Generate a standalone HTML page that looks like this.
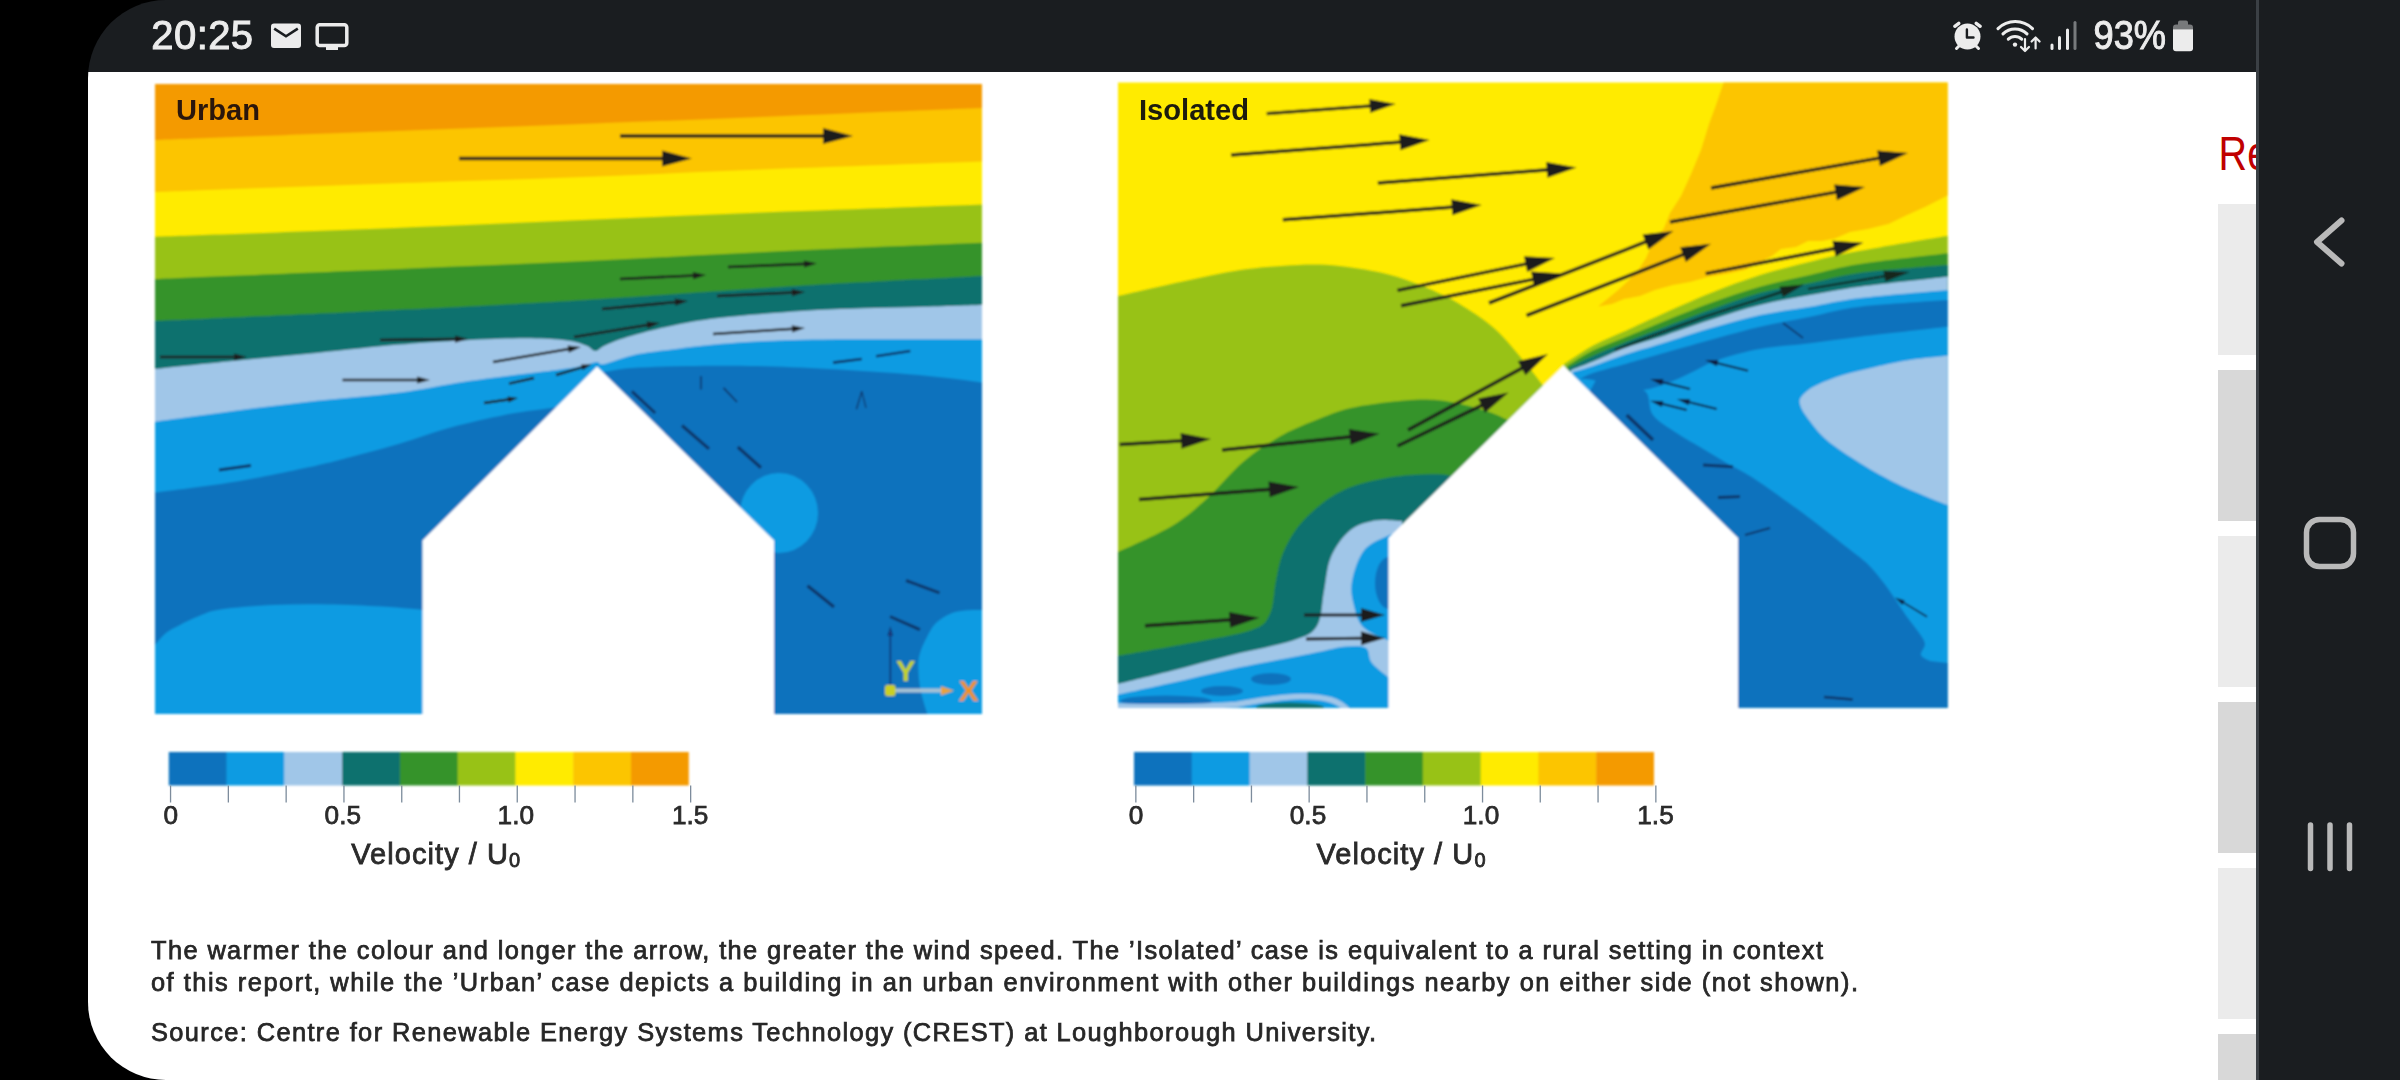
<!DOCTYPE html>
<html lang="en"><head><meta charset="utf-8"><title>Wind speed around buildings</title>
<style>
html,body{margin:0;padding:0;background:#000;}
body{width:2400px;height:1080px;overflow:hidden;position:relative;font-family:"Liberation Sans",sans-serif;}
#screen{position:absolute;left:88px;top:0;width:2312px;height:1080px;background:#1a1d20;border-radius:78px 0 0 78px;overflow:hidden;}
#page{position:absolute;left:0;top:72px;width:2168px;height:1008px;background:#fff;overflow:hidden;}
#status{position:absolute;left:0;top:0;width:2168px;height:72px;color:#ececec;}
#nav{position:absolute;left:2168px;top:0;width:144px;height:1080px;background:#1a1d20;border-left:3px solid #3b4045;box-sizing:border-box;}
.box{position:absolute;left:2130px;width:38px;height:151.5px;}
svg{position:absolute;left:0;top:0;}
svg text{font-family:"Liberation Sans",sans-serif;}
</style></head><body>
<div id="screen">
<div id="page">
<div class="box" style="top:131.5px;background:#ebebeb"></div>
<div class="box" style="top:297.5px;background:#d8d8d8"></div>
<div class="box" style="top:463.5px;background:#ebebeb"></div>
<div class="box" style="top:629.5px;background:#d8d8d8"></div>
<div class="box" style="top:795.5px;background:#ebebeb"></div>
<div class="box" style="top:961.5px;background:#d8d8d8"></div>

</div>
<div id="status"></div>
<div id="nav"></div>
</div>
<svg width="2400" height="1080" viewBox="0 0 2400 1080">
<defs>
<filter id="b1" x="100" y="60" width="1900" height="840" filterUnits="userSpaceOnUse"><feGaussianBlur stdDeviation="0.8"/></filter>
<filter id="b3" x="100" y="775" width="1900" height="115" filterUnits="userSpaceOnUse"><feGaussianBlur stdDeviation="0.5"/></filter>
<filter id="b4" x="150" y="80" width="1200" height="60" filterUnits="userSpaceOnUse"><feGaussianBlur stdDeviation="0.55"/></filter>
<filter id="b2" x="100" y="900" width="1900" height="170" filterUnits="userSpaceOnUse"><feGaussianBlur stdDeviation="0.45"/></filter>
<clipPath id="cre"><rect x="2200" y="100" width="56" height="100"/></clipPath>
<clipPath id="cl"><rect x="155" y="84" width="827" height="630"/></clipPath>
<clipPath id="cr"><rect x="1118" y="82.5" width="829.7" height="625.2"/></clipPath>
</defs>
<g filter="url(#b1)">
<g clip-path="url(#cl)">
<rect x="155.0" y="84.0" width="827.0" height="630.0" fill="#f49a06"/>
<path d="M155 140C188.3 138.8 285.8 135.1 355 132.5C424.2 129.9 498.3 127.2 570 124.5C641.7 121.8 716.3 118.8 785 116C853.7 113.2 949.2 109.3 982 108L982 714L155 714Z" fill="#fcc505"/>
<path d="M155 192C188.3 190.8 285.8 187.1 355 184.7C424.2 182.3 498.3 180.2 570 177.5C641.7 174.8 716.3 171.3 785 168.6C853.7 165.9 949.2 162.6 982 161.4L982 714L155 714Z" fill="#ffeb00"/>
<path d="M155 236.7C188.3 235.5 285.8 232.2 355 229.5C424.2 226.8 498.3 223.5 570 220.5C641.7 217.5 716.3 214.3 785 211.6C853.7 208.9 949.2 205.6 982 204.4L982 714L155 714Z" fill="#98c212"/>
<path d="M155 279C188.3 277.6 285.8 273.6 355 270.7C424.2 267.8 498.3 265.1 570 261.8C641.7 258.5 716.3 254.2 785 251C853.7 247.8 949.2 244.2 982 242.8L982 714L155 714Z" fill="#34932c"/>
<path d="M155 321C188.3 319.5 285.8 315.3 355 312C424.2 308.7 498.3 305.2 570 301C641.7 296.8 716.3 291 785 286.8C853.7 282.6 949.2 277.8 982 276L982 714L155 714Z" fill="#07716e"/>
<path d="M155 369C168 367.7 206.1 363.7 233 361C259.9 358.3 288.9 355.7 316.7 353C344.5 350.3 375.7 346.7 400 344.6C424.3 342.5 441.7 341.4 462.5 340.4C483.3 339.3 507.6 338.3 525 338.3C542.4 338.3 556.5 339.2 566.7 340.4C576.9 341.6 581.2 343.7 586 345.5C590.8 347.3 592.3 351 595.5 351C598.7 351 598.9 348.1 605 345.5C611.1 342.9 618.5 339.4 632 335.7C645.5 331.9 667.8 326.3 685.7 323C703.6 319.7 715.7 318.2 739.6 316C763.5 313.8 799.5 311.1 829.4 309.6C859.3 308.1 893.6 307.8 919 307C944.4 306.2 971.5 305.3 982 305L982 714L155 714Z" fill="#a0c6e8"/>
<path d="M155 421.7C168 419.9 206.1 414.5 233 411C259.9 407.5 288.9 403.9 316.7 400.8C344.5 397.7 375.7 395.6 400 392.5C424.3 389.4 441.7 385.1 462.5 382C483.3 378.9 507.6 376 525 373.8C542.4 371.5 556.3 370.1 566.7 368.5C577.1 366.9 582.5 365.5 587.5 364.4C592.5 363.3 594.2 362.1 597 362C599.8 361.9 598.2 365.1 604 364C609.8 362.9 621.4 357.7 632 355.4C642.6 353.1 652.8 351.9 667.8 350C682.8 348.1 700.8 345.5 721.7 343.8C742.7 342.1 767.1 340.8 793.5 340C819.9 339.2 848.6 339.4 880 339.3C911.4 339.2 965 339.3 982 339.3L982 714L155 714Z" fill="#0a9be2"/>
<path d="M155 492.5C168 490.8 206.1 486.5 233 482C259.9 477.5 295.9 469.9 316.7 465.4C337.5 460.9 344.1 458.6 358 455C371.9 451.4 386.1 447.7 400 443.5C413.9 439.3 427.9 434 441.7 430C455.5 426 470.9 422.4 483 419.6C495.1 416.8 505.1 414.7 514.6 413C524.1 411.3 531.4 410.7 540 409.5C548.6 408.3 561.7 406.6 566 406L566 714L155 714Z" fill="#0b72bd"/>
<path d="M598 374C599.5 373.6 601 372.6 606.7 371.6C612.4 370.6 618.8 368.9 632 368C645.2 367.1 664.8 366.3 685.7 366C706.6 365.7 733.7 365.5 757.6 366C781.5 366.5 802.5 367.5 829.4 369C856.3 370.5 893.6 372.8 919 375C944.4 377.2 971.5 381.2 982 382.4L982 714L598 714Z" fill="#0b72bd"/>
<path d="M155 645C156.8 643 161.8 636.3 166 633C170.2 629.7 174.7 627.8 180 625C185.3 622.2 191.2 619.1 198 616.5C204.8 613.9 207.9 611.4 220.6 609.5C233.3 607.6 256.1 605.9 274 605C291.9 604.1 310.1 604.1 328 604.4C345.9 604.6 365.7 605.6 381.7 606.5C397.7 607.4 416.9 609.4 424 610L424 714L155 714Z" fill="#0a9be2"/>
<ellipse cx="779" cy="513" rx="39" ry="40" fill="#0a9be2"/>
<path d="M982 610C979.2 610.1 970.2 609.9 965 610.5C959.8 611.1 955.8 611.4 951 613.5C946.2 615.6 940 619.1 936 623C932 626.9 929.8 631.7 927 637C924.2 642.3 920.9 649.2 919.5 655C918.1 660.8 918.2 665.8 918.5 672C918.8 678.2 919.4 684.7 921 692C922.6 699.3 926.8 712 928 716L982 716Z" fill="#0a9be2"/>
<path d="M597 366.5L774 540.5V720H422.5V540.5Z" fill="#fff"/>
<path d="M620 136L825 136" stroke="#1d1a1a" stroke-width="3.5" fill="none"/><path d="M853 136L823 144L823 128Z" fill="#1d1a1a"/>
<path d="M459 158.5L664 158.5" stroke="#1d1a1a" stroke-width="3.5" fill="none"/><path d="M692 158.5L662 166.5L662 150.5Z" fill="#1d1a1a"/>
<path d="M728 267L806 263.9" stroke="#1d1a1a" stroke-width="2.6" fill="none"/><path d="M817 263.5L804.2 267.6L803.9 260.4Z" fill="#1d1a1a"/>
<path d="M620 279L695 275.5" stroke="#1d1a1a" stroke-width="2.6" fill="none"/><path d="M706 275L693.2 279.2L692.8 272Z" fill="#1d1a1a"/>
<path d="M717 296L794 292.5" stroke="#1d1a1a" stroke-width="2.6" fill="none"/><path d="M805 292L792.2 296.2L791.8 289Z" fill="#1d1a1a"/>
<path d="M602 309L677 302" stroke="#1d1a1a" stroke-width="2.6" fill="none"/><path d="M688 301L675.4 305.8L674.7 298.6Z" fill="#1d1a1a"/>
<path d="M574 337L649.1 324.8" stroke="#1d1a1a" stroke-width="2.6" fill="none"/><path d="M660 323L647.7 328.6L646.6 321.5Z" fill="#1d1a1a"/>
<path d="M713 334L794 328.7" stroke="#1d1a1a" stroke-width="2.6" fill="none"/><path d="M805 328L792.3 332.4L791.8 325.3Z" fill="#1d1a1a"/>
<path d="M380 340L457 339.1" stroke="#1d1a1a" stroke-width="2.6" fill="none"/><path d="M468 339L455 342.7L455 335.5Z" fill="#1d1a1a"/>
<path d="M160 357L236 357" stroke="#1d1a1a" stroke-width="2.6" fill="none"/><path d="M247 357L234 360.6L234 353.4Z" fill="#1d1a1a"/>
<path d="M493 362L570.2 348.8" stroke="#1d1a1a" stroke-width="2.6" fill="none"/><path d="M581 347L568.8 352.7L567.6 345.6Z" fill="#1d1a1a"/>
<path d="M342.5 380L419 380" stroke="#1d1a1a" stroke-width="2.6" fill="none"/><path d="M430 380L417 383.6L417 376.4Z" fill="#1d1a1a"/>
<path d="M509 383.6L534 378" stroke="#1d1a1a" stroke-width="2.4" fill="none"/>
<path d="M556 375L583.9 366.8" stroke="#1d1a1a" stroke-width="2.4" fill="none"/><path d="M591.6 364.6L582.8 370.3L581.2 364.5Z" fill="#1d1a1a"/>
<path d="M484 403L510.1 399.2" stroke="#1d1a1a" stroke-width="2.4" fill="none"/><path d="M518 398L508.5 402.4L507.7 396.5Z" fill="#1d1a1a"/>
<path d="M833 362.6L861.8 359" stroke="#0c3467" stroke-width="2.6" fill="none"/>
<path d="M876 356.3L910.3 351" stroke="#0c3467" stroke-width="2.6" fill="none"/>
<path d="M701 376L701 389.6" stroke="#0c3467" stroke-width="1.6" fill="none"/>
<path d="M723.5 387.8L737 402" stroke="#0c3467" stroke-width="1.8" fill="none"/>
<path d="M861.8 391.4L856.4 409.3" stroke="#0c3467" stroke-width="1.4" fill="none"/>
<path d="M861.8 391.4L866 408" stroke="#0c3467" stroke-width="1.2" fill="none"/>
<path d="M631.9 391.4L655.2 413" stroke="#0c3467" stroke-width="3" fill="none"/>
<path d="M682 425.5L709 448.9" stroke="#0c3467" stroke-width="3.2" fill="none"/>
<path d="M737.8 447L761 467.7" stroke="#0c3467" stroke-width="3.2" fill="none"/>
<path d="M219 470L251 465.5" stroke="#0c3467" stroke-width="3" fill="none"/>
<path d="M807.5 585.7L834 606.9" stroke="#0c3467" stroke-width="3.2" fill="none"/>
<path d="M906 580.5L939.5 592.8" stroke="#0c3467" stroke-width="3" fill="none"/>
<path d="M890 616.5L920 629.7" stroke="#0c3467" stroke-width="3" fill="none"/>
<path d="M890.3 688V634" stroke="#123a7c" stroke-width="1.8"/><path d="M890.3 626l-3 10h6z" fill="#123a7c"/>
<path d="M894 690.5H942" stroke="#a9c2d4" stroke-width="4.2"/><path d="M954 690.8l-13 -4.5v9z" fill="#e8a23c"/>
<rect x="885" y="685" width="10.5" height="11" rx="2.5" fill="#c9cf22"/>
<text x="896" y="680.8" font-size="29" font-weight="bold" fill="#c4d326">Y</text>
<text x="958.5" y="701" font-size="30" font-weight="bold" fill="#f0921e">X</text>
</g>
<g clip-path="url(#cr)">
<rect x="1118.0" y="82.5" width="829.7" height="625.2" fill="#ffeb00"/>
<path d="M1723.6 82.5L1716 105L1709 124L1701 150L1691 174L1681 196L1670 213L1664 228L1652 244L1646 258L1637.6 271L1628 281L1617 291L1606 300L1598 306.5L1612 304L1624 299L1640 296L1655 290L1673 285L1690 282L1708 277L1726 274L1745 270L1760 262L1772 256L1781 249L1796 247L1808 241L1822 241L1835 238.5L1850 232L1868 229L1888.5 224L1905 216L1925 207L1947.7 195.4L1947.7 82.5Z" fill="#fcc505"/>
<path d="M1118 296C1128.3 293.7 1159.7 286.3 1180 282C1200.3 277.7 1220.5 272.8 1240 270C1259.5 267.2 1280.3 265.7 1297 265C1313.7 264.3 1325 264.5 1340 266C1355 267.5 1372.8 270.5 1387 274C1401.2 277.5 1413.2 282.2 1425 287C1436.8 291.8 1446.5 296.2 1458 303C1469.5 309.8 1483.2 318.5 1494 328C1504.8 337.5 1514.5 350 1523 360C1531.5 370 1541.3 383.3 1545 388L1545 560L1500 707.7L1118 707.7Z" fill="#98c212"/>
<path d="M1118 552C1127 547.7 1157.1 535 1172 526C1186.9 517 1195.7 508.7 1207.5 498C1219.3 487.3 1231.1 472.2 1243 462C1254.9 451.8 1267 443.9 1279 437C1291 430.1 1303 425.4 1315 420.6C1327 415.8 1336 411.4 1351 408C1366 404.6 1390.7 401.8 1405 400.5C1419.3 399.2 1426.3 399.1 1437 400C1447.7 400.9 1459 403.5 1469 406C1479 408.5 1489.2 411.8 1497 415C1504.8 418.2 1512.8 423.3 1516 425L1516 560L1500 707.7L1118 707.7Z" fill="#34932c"/>
<path d="M1118 656C1130.2 653.8 1168.7 647.3 1191 643C1213.3 638.7 1238.8 634.8 1252 630C1265.2 625.2 1266 622.2 1270 614C1274 605.8 1273.7 591.5 1276 581C1278.3 570.5 1279.3 561.2 1284 551C1288.7 540.8 1294.7 529.8 1304 520C1313.3 510.2 1326.2 499 1340 492C1353.8 485 1370.2 480.9 1387 478C1403.8 475.1 1428 474.1 1440.5 474.4C1453 474.7 1458.4 479.1 1462 480L1462 560L1500 707.7L1118 707.7Z" fill="#07716e"/>
<path d="M1118 684C1126.8 681.8 1152 675.8 1171 671C1190 666.2 1211.7 660.1 1232 655C1252.3 649.9 1278.8 645.3 1293 640.5C1307.2 635.7 1311.8 634.1 1317 626C1322.2 617.9 1321.7 603.1 1324 591.6C1326.3 580.1 1326.7 567.2 1331 557C1335.3 546.8 1342.7 536.6 1350 530.5C1357.3 524.4 1366.3 522.1 1375 520.5C1383.7 518.9 1397.5 520.9 1402 521L1402 560L1500 707.7L1118 707.7Z" fill="#a0c6e8"/>
<path d="M1392 534C1387.5 536.5 1371.7 541.2 1365 549C1358.3 556.8 1353.8 571.5 1352 581C1350.2 590.5 1352 598.2 1354 606C1356 613.8 1357.7 622 1364 628C1370.3 634 1387.3 639.7 1392 642Z" fill="#0a9be2"/>
<ellipse cx="1389" cy="583" rx="14" ry="26" fill="#0b72bd"/>
<path d="M1118 694.5C1126.8 692.6 1152 687.2 1171 683C1190 678.8 1211.7 673.3 1232 669C1252.3 664.7 1277.7 660 1293 657C1308.3 654 1315.2 652.4 1324 650.7C1332.8 649 1339 647.1 1346 646.6C1353 646.1 1361.7 645.3 1366 648C1370.3 650.7 1367.7 657.7 1372 663C1376.3 668.3 1388.7 677.2 1392 680L1392 707.7L1118 707.7Z" fill="#0a9be2"/>
<ellipse cx="1271" cy="679" rx="20" ry="6" fill="#0b72bd"/>
<ellipse cx="1222" cy="691" rx="21" ry="5" fill="#0b72bd"/>
<ellipse cx="1166" cy="701" rx="46" ry="5.5" fill="#0b72bd"/>
<path d="M1118 706C1160 707.500 1200 707 1236 704.500C1262 700 1280 696.500 1300 696.500C1325 696.500 1340 700 1349 712" stroke="#a0c6e8" stroke-width="5.5" fill="none"/>
<ellipse cx="1290" cy="707.5" rx="34" ry="5" fill="#07716e"/>
<path d="M1564 364C1568.8 360.9 1582.8 351 1593 345.5C1603.2 340 1613.8 336.1 1625 331C1636.2 325.9 1645.8 321.3 1660 315C1674.2 308.7 1693.3 300 1710 293.3C1726.7 286.6 1743.3 280.3 1760 275C1776.7 269.7 1793.3 265.7 1810 261.7C1826.7 257.7 1837 255.1 1860 250.8C1883 246.5 1933.1 238.3 1947.7 235.8L1947.7 707.7L1600 707.7L1600 420L1560 420Z" fill="#98c212"/>
<path d="M1567 366C1571.3 363.4 1583.3 355.2 1593 350.5C1602.7 345.8 1613.8 342.1 1625 337.5C1636.2 332.9 1645.8 328.7 1660 323C1674.2 317.3 1693.3 309.4 1710 303.3C1726.7 297.2 1743.3 291.4 1760 286.7C1776.7 282 1793.3 278.8 1810 275C1826.7 271.2 1837 267.6 1860 264C1883 260.4 1933.1 255.1 1947.7 253.3L1947.7 707.7L1600 707.7L1600 420L1560 420Z" fill="#34932c"/>
<path d="M1569 368C1573 366 1583.7 360.2 1593 356C1602.3 351.8 1613.8 347 1625 342.5C1636.2 338 1645.8 334.4 1660 329C1674.2 323.6 1693.3 316 1710 310C1726.7 304 1743.3 297.4 1760 293C1776.7 288.6 1793.3 286.6 1810 283.3C1826.7 280 1837 276.1 1860 273C1883 269.9 1933.1 266.3 1947.7 265L1947.7 707.7L1600 707.7L1600 420L1560 420Z" fill="#07716e"/>
<path d="M1571 370C1574.7 368.6 1584 365.2 1593 361.5C1602 357.8 1613.8 352.1 1625 348C1636.2 343.9 1645.8 341.7 1660 337C1674.2 332.3 1693.3 325.3 1710 320C1726.7 314.7 1743.3 309.2 1760 305C1776.7 300.8 1793.3 298.1 1810 295C1826.7 291.9 1837 289.8 1860 286.7C1883 283.6 1933.1 278.4 1947.7 276.7L1947.7 707.7L1600 707.7L1600 420L1560 420Z" fill="#a0c6e8"/>
<path d="M1573 372C1576.3 371 1584.3 368.9 1593 366C1601.7 363.1 1613.8 358.2 1625 354.5C1636.2 350.8 1645.8 348.4 1660 344C1674.2 339.6 1693.3 333.1 1710 328.3C1726.7 323.5 1743.3 318.6 1760 315C1776.7 311.4 1793.3 309.5 1810 306.7C1826.7 303.9 1837 300.8 1860 298C1883 295.2 1933.1 291.3 1947.7 290L1947.7 707.7L1600 707.7L1600 420L1560 420Z" fill="#0a9be2"/>
<path d="M1580 379C1582.2 378 1585.5 375.5 1593 373C1600.5 370.5 1613.8 367.2 1625 364C1636.2 360.8 1645.8 358 1660 354C1674.2 350 1693.3 344.6 1710 340C1726.7 335.4 1743.3 330.6 1760 326.7C1776.7 322.8 1793.3 320 1810 316.7C1826.7 313.4 1837 309.5 1860 306.7C1883 303.9 1933.1 301.1 1947.7 300L1947.7 326.7C1933.1 328.4 1883 333.9 1860 336.7C1837 339.5 1826.7 341.2 1810 343.3C1793.3 345.4 1775.3 346.2 1760 349C1744.7 351.8 1729.2 356.2 1718 360C1706.8 363.8 1701.3 367.9 1693 371.7C1684.7 375.5 1676.3 379.9 1668 383C1659.7 386.1 1651.3 389.2 1643 390C1634.7 390.8 1626.3 389.7 1618 388C1609.7 386.3 1599.3 381.5 1593 380C1586.7 378.5 1582.2 379.2 1580 379Z" fill="#0b72bd"/>
<path d="M1596 380C1600.8 381 1616.7 384 1625 386C1633.3 388 1641.3 387.2 1646 392C1650.7 396.8 1647.9 408.2 1653 415C1658.1 421.8 1668.6 427.5 1676.7 433C1684.8 438.5 1693.4 443 1701.7 448C1710 453 1718.4 458.2 1726.7 463C1735 467.8 1741.3 470.3 1751.7 477C1762.1 483.7 1778 495.1 1789 503C1800 510.9 1808.2 516.9 1818 524.4C1827.8 531.9 1839.3 541.2 1847.5 547.7C1855.7 554.2 1861.5 558.1 1867 563.3C1872.5 568.5 1876.3 573.6 1880.5 578.8C1884.7 584 1887.5 587.9 1892 594.4C1896.5 600.9 1903.1 611.2 1907.7 617.7C1912.3 624.2 1916.5 628.9 1919.4 633.3C1922.3 637.7 1924.7 640.4 1925 644C1925.3 647.6 1920.2 652.2 1921 655C1921.8 657.8 1928.5 660 1930 661L1947.7 663L1947.7 707.7L1700 707.7L1700 520L1585 400Z" fill="#0b72bd"/>
<path d="M1947.7 355.8C1941.4 356.5 1921.8 358.2 1910 360C1898.2 361.8 1887.9 364.2 1876.7 366.7C1865.5 369.2 1853.3 371.8 1843 375C1832.7 378.2 1821.8 382.5 1815 386C1808.2 389.5 1804.5 393 1802 396C1799.5 399 1799.2 400.6 1800 404C1800.8 407.4 1802.2 410.7 1806.7 416.7C1811.2 422.7 1817.8 432.3 1826.7 440C1835.6 447.7 1849 456.1 1860 463C1871 469.9 1881.9 476.1 1893 481.7C1904.1 487.3 1917.6 492.8 1926.7 496.7C1935.8 500.6 1944.2 503.6 1947.7 505Z" fill="#a0c6e8"/>
<path d="M1563.5 365.5L1738 538V715H1388.5V538Z" fill="#fff"/>
<path d="M1266.7 113.7L1371.8 105.8" stroke="#1d1a1a" stroke-width="3.2" fill="none"/><path d="M1395.7 104L1370.3 112.9L1369.2 99Z" fill="#1d1a1a"/>
<path d="M1231 155L1401.8 142.1" stroke="#1d1a1a" stroke-width="3.5" fill="none"/><path d="M1429.7 140L1400.4 150.2L1399.2 134.3Z" fill="#1d1a1a"/>
<path d="M1377.8 183L1548.8 169.7" stroke="#1d1a1a" stroke-width="3.5" fill="none"/><path d="M1576.7 167.5L1547.4 177.8L1546.2 161.9Z" fill="#1d1a1a"/>
<path d="M1282.8 219.8L1453.8 207.1" stroke="#1d1a1a" stroke-width="3.5" fill="none"/><path d="M1481.7 205L1452.4 215.2L1451.2 199.2Z" fill="#1d1a1a"/>
<path d="M1397.5 290.4L1527.6 263.6" stroke="#1d1a1a" stroke-width="3.5" fill="none"/><path d="M1555 258L1527.2 271.9L1524 256.2Z" fill="#1d1a1a"/>
<path d="M1401 305.8L1534.5 279.1" stroke="#1d1a1a" stroke-width="3.5" fill="none"/><path d="M1562 273.6L1534.2 287.3L1531 271.6Z" fill="#1d1a1a"/>
<path d="M1489 303L1647.4 241.2" stroke="#1d1a1a" stroke-width="3.5" fill="none"/><path d="M1673.5 231L1648.5 249.4L1642.6 234.5Z" fill="#1d1a1a"/>
<path d="M1526.5 315.5L1684.9 253.9" stroke="#1d1a1a" stroke-width="3.5" fill="none"/><path d="M1711 243.8L1685.9 262.1L1680.1 247.2Z" fill="#1d1a1a"/>
<path d="M1711 188L1880.4 157.9" stroke="#1d1a1a" stroke-width="3.5" fill="none"/><path d="M1908 153L1879.9 166.1L1877.1 150.4Z" fill="#1d1a1a"/>
<path d="M1670 222L1837.4 191.9" stroke="#1d1a1a" stroke-width="3.5" fill="none"/><path d="M1865 187L1836.9 200.2L1834.1 184.4Z" fill="#1d1a1a"/>
<path d="M1705.7 273.6L1835.9 248.2" stroke="#1d1a1a" stroke-width="3.5" fill="none"/><path d="M1863.4 242.8L1835.5 256.4L1832.4 240.7Z" fill="#1d1a1a"/>
<path d="M1408 430L1523.4 367.4" stroke="#1d1a1a" stroke-width="3.5" fill="none"/><path d="M1548 354L1525.5 375.3L1517.8 361.3Z" fill="#1d1a1a"/>
<path d="M1397.5 446L1483.4 404.7" stroke="#1d1a1a" stroke-width="3.5" fill="none"/><path d="M1508.6 392.6L1485 412.8L1478.1 398.4Z" fill="#1d1a1a"/>
<path d="M1119.7 444.6L1183.1 440.7" stroke="#1d1a1a" stroke-width="3.5" fill="none"/><path d="M1211 439L1181.5 448.8L1180.6 432.9Z" fill="#1d1a1a"/>
<path d="M1222 450L1351.7 436.7" stroke="#1d1a1a" stroke-width="3.5" fill="none"/><path d="M1379.6 433.8L1350.6 444.8L1348.9 428.9Z" fill="#1d1a1a"/>
<path d="M1139 499.5L1271.1 489.2" stroke="#1d1a1a" stroke-width="3.5" fill="none"/><path d="M1299 487L1269.7 497.3L1268.5 481.4Z" fill="#1d1a1a"/>
<path d="M1145 625.7L1231.6 619.7" stroke="#1d1a1a" stroke-width="3.5" fill="none"/><path d="M1259.5 617.8L1230.1 627.8L1229 611.9Z" fill="#1d1a1a"/>
<path d="M1304 615L1363 615" stroke="#1d1a1a" stroke-width="3" fill="none"/><path d="M1385 615L1361 622L1361 608Z" fill="#1d1a1a"/>
<path d="M1306 639L1363 638.3" stroke="#1d1a1a" stroke-width="3" fill="none"/><path d="M1385 638L1361.1 645.3L1360.9 631.3Z" fill="#1d1a1a"/>
<path d="M1615 350C1622.5 347.2 1644.2 338.8 1660 333C1675.8 327.2 1693.3 320.7 1710 315C1726.7 309.3 1748 302.8 1760 299C1772 295.2 1778.3 293.2 1782 292" stroke="#12261f" stroke-width="2.2" fill="none"/>
<path d="M1760 299L1783.1 291.4" stroke="#12261f" stroke-width="2.2" fill="none"/><path d="M1804 284.5L1782.9 297.2L1779.5 286.8Z" fill="#12261f"/>
<path d="M1808 289L1886.3 275.9" stroke="#12261f" stroke-width="2.2" fill="none"/><path d="M1910 272L1885.3 281.7L1883.4 270.8Z" fill="#12261f"/>
<path d="M1803 338L1783 323" stroke="#0c3467" stroke-width="1.6" fill="none"/>
<path d="M1748 370.8L1715.7 362.7" stroke="#0b1f3f" stroke-width="2" fill="none"/><path d="M1705 360L1718.4 360.1L1716.8 366.3Z" fill="#0b1f3f"/>
<path d="M1690 389L1660.7 381.7" stroke="#0b1f3f" stroke-width="2" fill="none"/><path d="M1650 379L1663.4 379L1661.8 385.3Z" fill="#0b1f3f"/>
<path d="M1716.7 409L1687.4 401.7" stroke="#0b1f3f" stroke-width="2" fill="none"/><path d="M1676.7 399L1690.1 399L1688.5 405.3Z" fill="#0b1f3f"/>
<path d="M1686.7 410L1660.7 403.5" stroke="#0b1f3f" stroke-width="2" fill="none"/><path d="M1650 400.8L1663.4 400.9L1661.8 407.1Z" fill="#0b1f3f"/>
<path d="M1626.7 415L1653 440" stroke="#0c3467" stroke-width="3.6" fill="none"/>
<path d="M1703 465L1733 466.7" stroke="#0c3467" stroke-width="3" fill="none"/>
<path d="M1718 497.5L1740 496.7" stroke="#0c3467" stroke-width="2.8" fill="none"/>
<path d="M1745 535L1770 528" stroke="#0c3467" stroke-width="2.2" fill="none"/>
<path d="M1927 616.7L1901.9 601.6" stroke="#0b1f3f" stroke-width="1.6" fill="none"/><path d="M1895 597.5L1904.9 600.4L1902.2 604.9Z" fill="#0b1f3f"/>
<path d="M1824 697L1852.7 699.5" stroke="#0c3467" stroke-width="2.4" fill="none"/>
</g>
<g>
<rect x="168.8" y="752" width="58.3" height="33.5" fill="#0b72bd"/><rect x="226.5" y="752" width="58.3" height="33.5" fill="#0a9be2"/><rect x="284.3" y="752" width="58.3" height="33.5" fill="#a0c6e8"/><rect x="342.1" y="752" width="58.3" height="33.5" fill="#07716e"/><rect x="399.9" y="752" width="58.3" height="33.5" fill="#34932c"/><rect x="457.6" y="752" width="58.3" height="33.5" fill="#98c212"/><rect x="515.4" y="752" width="58.3" height="33.5" fill="#ffeb00"/><rect x="573.2" y="752" width="58.3" height="33.5" fill="#fcc505"/><rect x="631" y="752" width="57.8" height="33.5" fill="#f49a06"/><rect x="1134" y="752" width="58.3" height="33.5" fill="#0b72bd"/><rect x="1191.8" y="752" width="58.3" height="33.5" fill="#0a9be2"/><rect x="1249.6" y="752" width="58.3" height="33.5" fill="#a0c6e8"/><rect x="1307.3" y="752" width="58.3" height="33.5" fill="#07716e"/><rect x="1365.1" y="752" width="58.3" height="33.5" fill="#34932c"/><rect x="1422.9" y="752" width="58.3" height="33.5" fill="#98c212"/><rect x="1480.7" y="752" width="58.3" height="33.5" fill="#ffeb00"/><rect x="1538.4" y="752" width="58.3" height="33.5" fill="#fcc505"/><rect x="1596.2" y="752" width="57.8" height="33.5" fill="#f49a06"/>
</g>
</g>
<g filter="url(#b3)">
<rect x="169.9" y="785.5" width="1.3" height="17" fill="#7d8c9c"/><rect x="227.7" y="785.5" width="1.3" height="17" fill="#7d8c9c"/><rect x="285.5" y="785.5" width="1.3" height="17" fill="#7d8c9c"/><rect x="343.3" y="785.5" width="1.3" height="17" fill="#7d8c9c"/><rect x="401.1" y="785.5" width="1.3" height="17" fill="#7d8c9c"/><rect x="458.8" y="785.5" width="1.3" height="17" fill="#7d8c9c"/><rect x="516.6" y="785.5" width="1.3" height="17" fill="#7d8c9c"/><rect x="574.4" y="785.5" width="1.3" height="17" fill="#7d8c9c"/><rect x="632.2" y="785.5" width="1.3" height="17" fill="#7d8c9c"/><rect x="690" y="785.5" width="1.3" height="17" fill="#7d8c9c"/><text x="170.8" y="824" font-size="26.2" text-anchor="middle" fill="#2a2a2a" stroke="#2a2a2a" stroke-width="0.75">0</text><text x="342.8" y="824" font-size="26.2" text-anchor="middle" fill="#2a2a2a" stroke="#2a2a2a" stroke-width="0.75">0.5</text><text x="515.8" y="824" font-size="26.2" text-anchor="middle" fill="#2a2a2a" stroke="#2a2a2a" stroke-width="0.75">1.0</text><text x="690.2" y="824" font-size="26.2" text-anchor="middle" fill="#2a2a2a" stroke="#2a2a2a" stroke-width="0.75">1.5</text><text x="351.2" y="864" font-size="29" fill="#2a2a2a" stroke="#2a2a2a" stroke-width="0.8" textLength="169" lengthAdjust="spacing">Velocity / U<tspan font-size="20" dy="3">0</tspan></text><rect x="1135.2" y="785.5" width="1.3" height="17" fill="#7d8c9c"/><rect x="1193" y="785.5" width="1.3" height="17" fill="#7d8c9c"/><rect x="1250.8" y="785.5" width="1.3" height="17" fill="#7d8c9c"/><rect x="1308.5" y="785.5" width="1.3" height="17" fill="#7d8c9c"/><rect x="1366.3" y="785.5" width="1.3" height="17" fill="#7d8c9c"/><rect x="1424.1" y="785.5" width="1.3" height="17" fill="#7d8c9c"/><rect x="1481.9" y="785.5" width="1.3" height="17" fill="#7d8c9c"/><rect x="1539.6" y="785.5" width="1.3" height="17" fill="#7d8c9c"/><rect x="1597.4" y="785.5" width="1.3" height="17" fill="#7d8c9c"/><rect x="1655.2" y="785.5" width="1.3" height="17" fill="#7d8c9c"/><text x="1136" y="824" font-size="26.2" text-anchor="middle" fill="#2a2a2a" stroke="#2a2a2a" stroke-width="0.75">0</text><text x="1308" y="824" font-size="26.2" text-anchor="middle" fill="#2a2a2a" stroke="#2a2a2a" stroke-width="0.75">0.5</text><text x="1481" y="824" font-size="26.2" text-anchor="middle" fill="#2a2a2a" stroke="#2a2a2a" stroke-width="0.75">1.0</text><text x="1655.5" y="824" font-size="26.2" text-anchor="middle" fill="#2a2a2a" stroke="#2a2a2a" stroke-width="0.75">1.5</text><text x="1316.5" y="864" font-size="29" fill="#2a2a2a" stroke="#2a2a2a" stroke-width="0.8" textLength="169" lengthAdjust="spacing">Velocity / U<tspan font-size="20" dy="3">0</tspan></text>
</g>
<g filter="url(#b4)">
<text x="176" y="119.5" font-size="29.5" font-weight="bold" fill="#2b1708" textLength="84" lengthAdjust="spacingAndGlyphs">Urban</text>
<text x="1139" y="120" font-size="30" font-weight="bold" fill="#1d1a10" textLength="110" lengthAdjust="spacingAndGlyphs">Isolated</text>
</g>
<g font-size="25.4" fill="#262626" stroke="#262626" stroke-width="0.75" filter="url(#b2)">
<text x="151" y="958.7" textLength="1672" lengthAdjust="spacing">The warmer the colour and longer the arrow, the greater the wind speed. The &#8217;Isolated&#8217; case is equivalent to a rural setting in context</text>
<text x="151" y="991" textLength="1707" lengthAdjust="spacing">of this report, while the &#8217;Urban&#8217; case depicts a building in an urban environment with other buildings nearby on either side (not shown).</text>
<text x="151" y="1040.7" textLength="1225" lengthAdjust="spacing">Source: Centre for Renewable Energy Systems Technology (CREST) at Loughborough University.</text>
</g>

<g clip-path="url(#cre)"><text transform="translate(2218.6 170) scale(0.83 1)" font-size="47.6" fill="#c00000">Related</text></g>
<g font-size="40" fill="#ececec" stroke="#ececec" stroke-width="1">
<text x="151.3" y="49.4" textLength="101.8" lengthAdjust="spacing">20:25</text>
<text x="2093.5" y="49.4" textLength="72.5" lengthAdjust="spacingAndGlyphs">93%</text>
</g>
<!-- mail -->
<rect x="271" y="23.5" width="30" height="24.5" rx="3" fill="#ececec"/>
<path d="M274.2 28.6L286 36.3L297.8 28.6" stroke="#1a1d20" stroke-width="2.6" fill="none"/>
<!-- screen -->
<rect x="317.2" y="24.7" width="29.6" height="20.8" rx="2.5" fill="none" stroke="#ececec" stroke-width="3.5"/>
<rect x="326" y="46.5" width="12" height="3.5" fill="#ececec"/>
<!-- alarm -->
<circle cx="1967.5" cy="36.5" r="13" fill="#ececec"/>
<path d="M1966.9 29.5V37.5H1973.5" stroke="#1a1d20" stroke-width="2.4" fill="none" stroke-linecap="round" stroke-linejoin="round"/>
<path d="M1954.8 26.3L1958.8 23.3M1976.2 23.3L1980.2 26.3" stroke="#ececec" stroke-width="3.4" stroke-linecap="round"/>
<path d="M1956.5 48.5L1959 46M1976 46L1978.5 48.5" stroke="#ececec" stroke-width="3" stroke-linecap="round"/>
<!-- wifi -->
<g fill="none" stroke="#ececec" stroke-width="3.1" stroke-linecap="round">
<path d="M1998 28.6A24.5 24.5 0 0 1 2032.5 28.6"/>
<path d="M2003 33.9A17 17 0 0 1 2027 33.9"/>
<path d="M2008.3 39.2A9.6 9.6 0 0 1 2021.7 39.2"/>
<path d="M2025 39V50.5M2021 47L2025 51L2029 47" stroke-width="2.2" stroke-linejoin="round"/>
<path d="M2035.6 48.5V38M2031.6 41.5L2035.6 37.5L2039.6 41.5" stroke-width="2.2" stroke-linejoin="round"/>
</g>
<circle cx="2015" cy="44.6" r="2.2" fill="#ececec"/>
<!-- signal -->
<g stroke-width="3" stroke-linecap="round">
<path d="M2052 45V48.5" stroke="#ececec"/><path d="M2059.5 37.5V48.5" stroke="#ececec"/><path d="M2067.5 30V48.5" stroke="#ececec"/><path d="M2075 22.5V48.5" stroke="#777a7c"/>
</g>
<!-- battery -->
<path d="M2178 24.5V22.5Q2178 20.6 2180 20.6H2186Q2188 20.6 2188 22.5V24.5H2190Q2193 24.5 2193 27.5V29.3H2173V27.5Q2173 24.5 2176 24.5Z" fill="#77797b"/>
<path d="M2173 29.3H2193V48.3Q2193 51.3 2190 51.3H2176Q2173 51.3 2173 48.3Z" fill="#ececec"/>
<!-- nav icons -->
<g fill="none" stroke="#b9b9b9" stroke-linecap="round" stroke-linejoin="round">
<path d="M2341.5 220.5L2317 242L2341.500 263.5" stroke-width="6"/>
<rect x="2306.500" y="519.5" width="47" height="47" rx="13" stroke-width="5.5"/>
<path d="M2310.5 825V868.5M2330 825V868.5M2349.5 825V868.5" stroke-width="5.5"/>
</g>

</svg>
</body></html>
